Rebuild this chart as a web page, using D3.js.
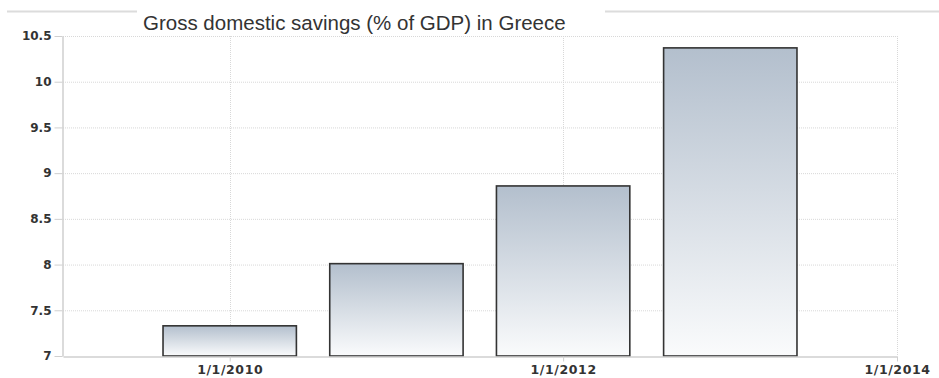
<!DOCTYPE html>
<html>
<head>
<meta charset="utf-8">
<script src="https://cdn.jsdelivr.net/npm/d3@7"></script>
<style>
  body { margin: 0; background: #fff; }
  svg { display: block; }
</style>
</head>
<body>
<svg id="chart" width="939" height="378"></svg>
<script>
// data
var years = [2010, 2011, 2012, 2013];
var savings = [7.33, 8.01, 8.86, 10.37];
var yTicks = [7, 7.5, 8, 8.5, 9, 9.5, 10, 10.5];
var xTickYears = [2010, 2012, 2014];
var title = "Gross domestic savings (% of GDP) in Greece";

var width = 939, height = 378;
var margin = { top: 36, right: 42, bottom: 22, left: 63 };

var svg = d3.select("#chart");

var xScale = d3.scaleTime()
  .domain([new Date(2009, 0, 1), new Date(2014, 0, 1)])
  .range([margin.left, width - margin.right]);

var yScale = d3.scaleLinear()
  .domain([7, 10.5])
  .range([height - margin.bottom, margin.top]);

// gradient for bars
var grad = svg.append("defs").append("linearGradient")
  .attr("id", "barGrad")
  .attr("x1", 0).attr("y1", 0).attr("x2", 0).attr("y2", 1);
grad.append("stop").attr("offset", "0%").attr("stop-color", "#b3bfcd");
grad.append("stop").attr("offset", "100%").attr("stop-color", "#fafbfc");

// top rule
svg.append("line")
  .attr("x1", 7).attr("x2", width)
  .attr("y1", 11.5).attr("y2", 11.5)
  .attr("stroke", "#dcdcdc")
  .attr("stroke-width", 2);

// horizontal grid
svg.append("g")
  .selectAll("line")
  .data(yTicks.slice(1))
  .enter().append("line")
  .attr("x1", margin.left)
  .attr("x2", width - margin.right)
  .attr("y1", function(d) { return yScale(d) + 0.5; })
  .attr("y2", function(d) { return yScale(d) + 0.5; })
  .attr("stroke", "#d8d8d8")
  .attr("stroke-dasharray", "1,1");

// vertical grid
svg.append("g")
  .selectAll("line")
  .data(xTickYears)
  .enter().append("line")
  .attr("x1", function(d) { return Math.round(xScale(new Date(d, 0, 1))) + 0.5; })
  .attr("x2", function(d) { return Math.round(xScale(new Date(d, 0, 1))) + 0.5; })
  .attr("y1", margin.top)
  .attr("y2", height - margin.bottom)
  .attr("stroke", "#d8d8d8")
  .attr("stroke-dasharray", "1,1");

// bars
var halfBar = (xScale(new Date(2011, 0, 1)) - xScale(new Date(2010, 0, 1))) * 0.4;
svg.append("g")
  .selectAll("rect")
  .data(years)
  .enter().append("rect")
  .attr("x", function(d) { return xScale(new Date(d, 0, 1)) - halfBar; })
  .attr("width", halfBar * 2)
  .attr("y", function(d, i) { return yScale(savings[i]); })
  .attr("height", function(d, i) { return yScale(7) - yScale(savings[i]); })
  .attr("fill", "url(#barGrad)")
  .attr("stroke", "#333")
  .attr("stroke-width", 1.6);

// y axis
var yAxis = d3.axisLeft(yScale)
  .tickValues(yTicks)
  .tickSize(8)
  .tickSizeOuter(0)
  .tickPadding(3)
  .tickFormat(function(d) { return d3.format("~g")(d); });

var gy = svg.append("g")
  .attr("transform", "translate(" + (margin.left - 0.5) + ",0)")
  .call(yAxis);
gy.select(".domain").attr("stroke", "#cfcfcf").attr("stroke-width", 1.5);
gy.selectAll(".tick line").attr("stroke", "#cfcfcf");
gy.selectAll(".tick text")
  .attr("fill", "#333")
  .style("font-family", "'DejaVu Sans', sans-serif")
  .style("font-size", "12px")
  .style("font-weight", "bold");

// x axis
var xAxis = d3.axisBottom(xScale)
  .tickValues(xTickYears.map(function(y) { return new Date(y, 0, 1); }))
  .tickSize(5)
  .tickSizeOuter(0)
  .tickPadding(4)
  .tickFormat(d3.timeFormat("%-m/%-d/%Y"));

var gx = svg.append("g")
  .attr("transform", "translate(0," + (height - margin.bottom + 0.5) + ")")
  .call(xAxis);
gx.select(".domain").attr("stroke", "#cfcfcf").attr("stroke-width", 1.5);
gx.selectAll(".tick line").attr("stroke", "#cfcfcf");
gx.selectAll(".tick text")
  .attr("fill", "#333")
  .style("font-family", "'DejaVu Sans', sans-serif")
  .style("font-size", "12.5px")
  .style("font-weight", "bold")
  .style("letter-spacing", "0.6px");

// title with white box
svg.append("rect")
  .attr("x", 137).attr("y", 0)
  .attr("width", 468).attr("height", 36)
  .attr("fill", "#fff");

svg.append("text")
  .attr("x", 143)
  .attr("y", 30)
  .attr("fill", "#333")
  .style("font-family", "'Liberation Sans', Arial, sans-serif")
  .style("font-size", "20.5px")
  .text(title);
</script>
</body>
</html>
